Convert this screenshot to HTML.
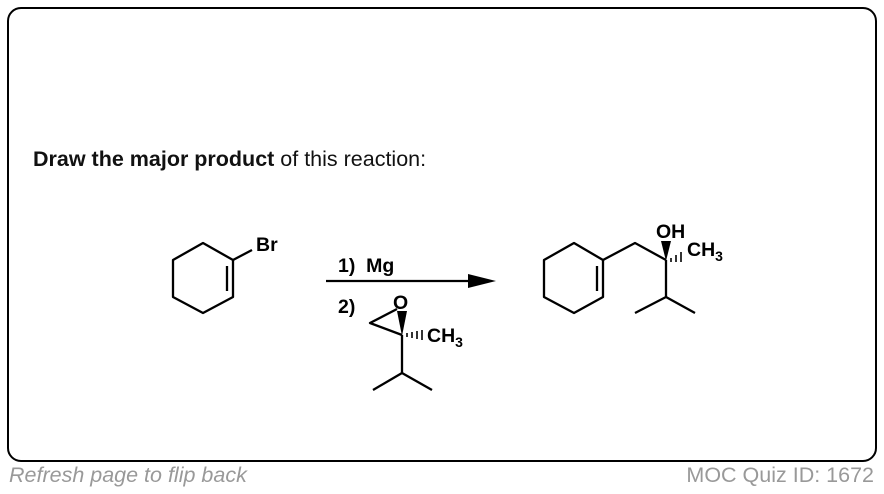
<!DOCTYPE html>
<html><head><meta charset="utf-8"><style>
html,body{margin:0;padding:0;background:#fff;width:884px;height:494px;overflow:hidden;font-family:"Liberation Sans",sans-serif}
.box{position:absolute;left:7px;top:7px;width:866px;height:451px;border:2.5px solid #000;border-radius:14px}
.h{position:absolute;left:33px;top:147px;font-size:21.5px;color:#111;white-space:nowrap}
.f{position:absolute;top:463px;font-size:21.5px;color:#999;font-style:italic;white-space:nowrap}
.r{position:absolute;top:463px;right:10px;font-size:21.5px;color:#999;white-space:nowrap}
svg{position:absolute;left:0;top:0}
</style></head><body>
<div class="box"></div>
<div class="h"><b>Draw the major product</b> of this reaction:</div>
<div class="f" style="left:9px">Refresh page to flip back</div>
<div class="r">MOC Quiz ID: 1672</div>
<svg width="884" height="494" font-family="Liberation Sans, sans-serif" font-weight="bold" font-size="19.5">
<g stroke="#000" stroke-width="2.3" fill="none" stroke-linejoin="round">
<polygon points="203,243 233,260 233,297 203,313 173,297 173,260"/>
<line x1="227" y1="266" x2="227" y2="291"/>
<line x1="233" y1="260" x2="252" y2="250"/>
<line x1="326" y1="281" x2="470" y2="281"/>
<polyline points="397,309 370,323 402,335"/>
<line x1="402" y1="335" x2="402" y2="373"/>
<polyline points="373,390 402,373 432,390"/>
<polygon points="574,243 603,260 603,297 574,313 544,297 544,260"/>
<line x1="597" y1="266" x2="597" y2="291"/>
<polyline points="603,260 635,243 666,260"/>
<line x1="666" y1="260" x2="666" y2="297"/>
<polyline points="635,313 666,297 695,313"/>
</g>
<polygon points="468,274 496,281 468,288" fill="#000"/>
<polygon points="402,336 397,311 407,311" fill="#000"/>
<polygon points="666,261 661,241 671,241" fill="#000"/>
<g stroke="#000" stroke-width="1.6">
<line x1="407" y1="333" x2="407" y2="337"/><line x1="412" y1="332" x2="412" y2="338"/><line x1="417" y1="331" x2="417" y2="339"/><line x1="422" y1="330" x2="422" y2="340"/>
<line x1="671" y1="258" x2="671" y2="262"/><line x1="676" y1="255" x2="676" y2="262"/><line x1="681" y1="252" x2="681" y2="262"/>
</g>
<text x="256" y="251">Br</text>
<text x="338" y="272" xml:space="preserve">1)  Mg</text>
<text x="338" y="313">2)</text>
<text x="393" y="309">O</text>
<text x="427" y="342">CH<tspan font-size="14" dy="5">3</tspan></text>
<text x="656" y="238">OH</text>
<text x="687" y="256">CH<tspan font-size="14" dy="5">3</tspan></text>
</svg>
</body></html>
